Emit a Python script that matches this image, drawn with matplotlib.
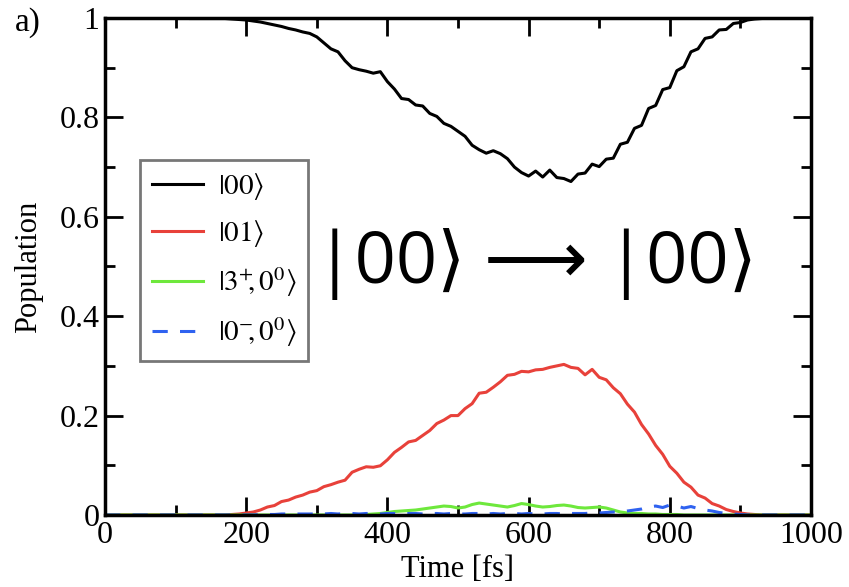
import matplotlib
matplotlib.use('Agg')
import matplotlib.pyplot as plt
import numpy as np

plt.rcParams['font.family'] = ['Liberation Serif', 'DejaVu Serif']
plt.rcParams['mathtext.fontset'] = 'stix'

# time axis [fs], every 10 fs
time = np.arange(0, 1001, 10)

pop_00 = [1.000, 1.000, 1.000, 1.000, 1.000, 1.000, 1.000, 1.000, 1.000, 1.000,
          1.000, 1.000, 0.999, 0.999, 0.999, 0.999, 0.999, 0.999, 0.998, 0.997,
          0.996, 0.994, 0.992, 0.989, 0.986, 0.983, 0.979, 0.976, 0.972, 0.969,
          0.962, 0.950, 0.938, 0.932, 0.914, 0.900, 0.896, 0.893, 0.889, 0.892,
          0.872, 0.857, 0.838, 0.836, 0.825, 0.823, 0.808, 0.802, 0.788, 0.782,
          0.772, 0.762, 0.744, 0.735, 0.728, 0.733, 0.727, 0.717, 0.700, 0.689,
          0.682, 0.692, 0.680, 0.694, 0.679, 0.677, 0.671, 0.686, 0.688, 0.706,
          0.701, 0.716, 0.718, 0.746, 0.750, 0.778, 0.784, 0.818, 0.824, 0.856,
          0.860, 0.894, 0.902, 0.932, 0.938, 0.959, 0.962, 0.976, 0.977, 0.989,
          0.991, 0.996, 0.998, 0.999, 1.000, 1.000, 1.000, 1.000, 1.000, 1.000,
          1.000]

pop_01 = [0.000, 0.000, 0.000, 0.000, 0.000, 0.000, 0.000, 0.000, 0.000, 0.000,
          0.000, 0.000, 0.000, 0.000, 0.000, 0.000, 0.000, 0.000, 0.001, 0.002,
          0.004, 0.006, 0.010, 0.016, 0.019, 0.027, 0.030, 0.036, 0.040, 0.046,
          0.049, 0.057, 0.061, 0.066, 0.070, 0.086, 0.092, 0.097, 0.096, 0.099,
          0.111, 0.126, 0.136, 0.147, 0.150, 0.160, 0.170, 0.184, 0.191, 0.200,
          0.200, 0.214, 0.224, 0.245, 0.247, 0.257, 0.268, 0.281, 0.283, 0.289,
          0.288, 0.292, 0.293, 0.297, 0.300, 0.303, 0.297, 0.295, 0.282, 0.293,
          0.277, 0.272, 0.256, 0.244, 0.223, 0.207, 0.182, 0.163, 0.140, 0.122,
          0.098, 0.084, 0.066, 0.056, 0.040, 0.034, 0.023, 0.018, 0.011, 0.007,
          0.004, 0.002, 0.001, 0.000, 0.000, 0.000, 0.000, 0.000, 0.000, 0.000,
          0.000]

pop_3p = [0.000, 0.000, 0.000, 0.000, 0.000, 0.000, 0.000, 0.000, 0.000, 0.000,
          0.000, 0.000, 0.000, 0.000, 0.000, 0.000, 0.000, 0.000, 0.000, 0.000,
          0.000, 0.000, 0.000, 0.000, 0.000, 0.000, 0.000, 0.000, 0.000, 0.000,
          0.000, 0.000, 0.000, 0.000, 0.000, 0.000, 0.001, 0.001, 0.002, 0.003,
          0.005, 0.007, 0.008, 0.009, 0.010, 0.012, 0.014, 0.016, 0.018, 0.017,
          0.014, 0.016, 0.021, 0.024, 0.022, 0.020, 0.018, 0.016, 0.019, 0.023,
          0.021, 0.018, 0.016, 0.017, 0.019, 0.020, 0.018, 0.015, 0.014, 0.015,
          0.016, 0.014, 0.010, 0.006, 0.004, 0.003, 0.003, 0.002, 0.002, 0.001,
          0.001, 0.001, 0.000, 0.000, 0.000, 0.000, 0.000, 0.000, 0.000, 0.000,
          0.000, 0.000, 0.000, 0.000, 0.000, 0.000, 0.000, 0.000, 0.000, 0.000,
          0.000]

pop_0m = [0.000, 0.000, 0.000, 0.000, 0.000, 0.000, 0.000, 0.000, 0.000, 0.000,
          0.000, 0.000, 0.000, 0.000, 0.000, 0.000, 0.000, 0.000, 0.000, 0.000,
          0.000, 0.000, 0.001, 0.001, 0.001, 0.002, 0.002, 0.002, 0.002, 0.002,
          0.002, 0.002, 0.003, 0.002, 0.003, 0.003, 0.002, 0.003, 0.003, 0.002,
          0.003, 0.003, 0.002, 0.003, 0.003, 0.002, 0.003, 0.003, 0.002, 0.003,
          0.002, 0.002, 0.003, 0.003, 0.002, 0.003, 0.002, 0.003, 0.003, 0.002,
          0.003, 0.002, 0.002, 0.003, 0.003, 0.002, 0.003, 0.003, 0.003, 0.004,
          0.004, 0.005, 0.006, 0.006, 0.008, 0.010, 0.012, 0.016, 0.018, 0.015,
          0.020, 0.018, 0.014, 0.017, 0.013, 0.010, 0.008, 0.005, 0.003, 0.002,
          0.001, 0.000, 0.000, 0.000, 0.000, 0.000, 0.000, 0.000, 0.000, 0.000,
          0.000]

labels = [r'$|00\rangle$', r'$|01\rangle$',
          r'$|3^{+}\!\!,0^{0}\rangle$', r'$|0^{-}\!\!,0^{0}\rangle$']

fig = plt.figure(figsize=(8.49, 5.87), dpi=100)
ax = fig.add_axes([0.1237, 0.1227, 0.8315, 0.8466])

ax.plot(time, pop_00, color='black', lw=2.2, label=labels[0])
ax.plot(time, pop_01, color='#e8413a', lw=2.2, label=labels[1])
ax.plot(time, pop_3p, color='#6ee83c', lw=2.2, label=labels[2])
ax.plot(time, pop_0m, color='#2f62f0', lw=2.2, ls=(0, (5, 4)), label=labels[3])

ax.set_xlim(0, 1000)
ax.set_ylim(0, 1)
ax.set_xticks([0, 200, 400, 600, 800, 1000])
ax.set_xticks(np.arange(100, 1000, 200), minor=True)
ax.set_yticks([0, 0.2, 0.4, 0.6, 0.8, 1])
ax.set_yticklabels(['0', '0.2', '0.4', '0.6', '0.8', '1'])
ax.set_yticks([0.1, 0.3, 0.5, 0.7, 0.9], minor=True)
ax.tick_params(which='both', direction='in', top=True, right=True,
               labelsize=23, width=2)
ax.tick_params(which='major', length=13, pad=4)
ax.tick_params(which='minor', length=7)
for s in ax.spines.values():
    s.set_linewidth(2.5)

ax.set_xlabel('Time [fs]', fontsize=22, labelpad=4)
ax.set_ylabel('Population', fontsize=22, labelpad=12)

leg = ax.legend(loc='upper left', bbox_to_anchor=(0.05, 0.715), fontsize=21,
                frameon=True, fancybox=False, edgecolor='#555555',
                handlelength=1.75, handletextpad=0.5, labelspacing=0.55,
                borderpad=0.4, borderaxespad=0)
leg.get_frame().set_linewidth(2)

fig.text(0.018, 0.962, 'a)', fontsize=24, va='center', ha='left')

ax.text(0.297, 0.505, '|00⟩ ⟶ |00⟩', transform=ax.transAxes,
        family=['Open Sans', 'DejaVu Sans'], fontsize=52, va='center', ha='left')

fig.savefig('out.png', dpi=100)
